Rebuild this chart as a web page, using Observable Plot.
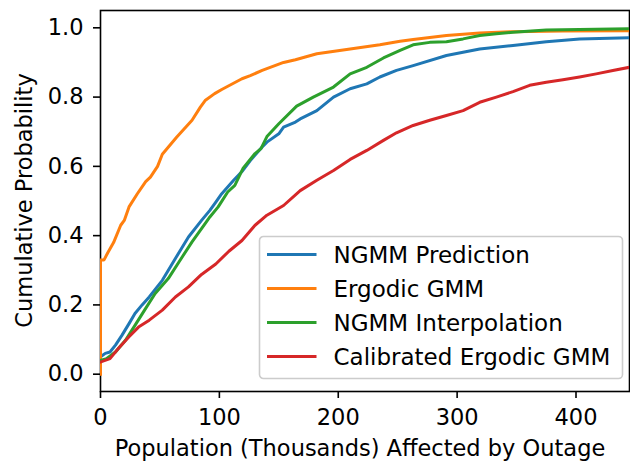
<!DOCTYPE html>
<html>
<head>
<meta charset="utf-8">
<script src="https://cdn.jsdelivr.net/npm/d3@7"></script>
<script src="https://cdn.jsdelivr.net/npm/@observablehq/plot@0.6"></script>
<style>
  html, body { margin: 0; padding: 0; background: white; }
  #chart { width: 630px; height: 462px; }
</style>
</head>
<body>
<div id="chart"></div>
<script>
// Series names and colours
const seriesNames = ["NGMM Prediction", "Ergodic GMM", "NGMM Interpolation", "Calibrated Ergodic GMM"];
const seriesColors = ["#1f77b4", "#ff7f0e", "#2ca02c", "#d62728"];

// NGMM Prediction (population in thousands, cumulative probability)
const ngmmPredX = [0,4,8,12.6,18,24,29,35,41,52,63,74,85,92,97,102,112,119,126,136,140,150,154,164,168,182,196,210,224,235,249,263,291,319,347,375,403,460];
const ngmmPredY = [0.05,0.06,0.064,0.084,0.112,0.146,0.175,0.2,0.223,0.271,0.334,0.396,0.444,0.473,0.497,0.521,0.56,0.585,0.617,0.656,0.67,0.694,0.713,0.728,0.737,0.761,0.80,0.824,0.838,0.858,0.877,0.891,0.92,0.939,0.949,0.96,0.968,0.973];

// Ergodic GMM
const ergodicX = [0,0,3,6,11,17,20,24,31,38,42,48,52,64,77,84,88,96,102,119,126,136,154,164,182,210,235,252,263,291,319,347,389,460];
const ergodicY = [0,0.33,0.33,0.35,0.38,0.43,0.444,0.483,0.521,0.556,0.569,0.6,0.635,0.684,0.733,0.771,0.79,0.81,0.822,0.853,0.862,0.877,0.90,0.908,0.925,0.939,0.951,0.961,0.966,0.978,0.985,0.989,0.991,0.992];

// NGMM Interpolation
const ngmmInterpX = [0,5,12.6,21,29,38,46,57,66,77,88,92,99,107,113,120,130,135,140,150,165,179,196,210,224,238,252,263,277,291,305,319,333,347,375,460];
const ngmmInterpY = [0.04,0.045,0.064,0.098,0.141,0.19,0.233,0.276,0.324,0.382,0.435,0.454,0.483,0.526,0.545,0.595,0.637,0.651,0.686,0.723,0.774,0.80,0.829,0.867,0.886,0.913,0.935,0.951,0.958,0.96,0.968,0.978,0.983,0.987,0.994,0.998];

// Calibrated Ergodic GMM
const calibX = [0,8,15,24,32,41,52,63,74,85,97,108,119,130,140,154,168,182,196,210,224,238,249,263,277,291,305,319,333,347,361,375,389,403,417,431,445,460];
const calibY = [0.035,0.045,0.074,0.108,0.136,0.156,0.185,0.223,0.252,0.288,0.318,0.355,0.386,0.43,0.459,0.487,0.53,0.56,0.588,0.62,0.646,0.675,0.697,0.718,0.733,0.747,0.761,0.785,0.80,0.816,0.834,0.843,0.85,0.858,0.867,0.877,0.886,0.89];

// Axis ticks
const xTicks = [0, 100, 200, 300, 400];
const yTicks = [0.0, 0.2, 0.4, 0.6, 0.8, 1.0];
const xLabel = "Population (Thousands) Affected by Outage";
const yLabel = "Cumulative Probability";

const seriesX = [ngmmPredX, ergodicX, ngmmInterpX, calibX];
const seriesY = [ngmmPredY, ergodicY, ngmmInterpY, calibY];
const data = seriesNames.flatMap((name, i) =>
  seriesX[i].map((x, j) => ({series: name, x, y: seriesY[i][j]})));

const W = 630, H = 462;
const mL = 100, mR = 1, mT = 10, mB = 71;
const font = "DejaVu Sans, sans-serif";
const fs = 22.5;
const lfs = 23;

const chart = Plot.plot({
  width: W,
  height: H,
  marginLeft: mL,
  marginRight: mR,
  marginTop: mT,
  marginBottom: mB,
  style: {fontFamily: font, fontSize: fs + "px", color: "black", background: "white", overflow: "visible"},
  x: {domain: [0, 445]},
  y: {domain: [-0.05, 1.05]},
  color: {domain: seriesNames, range: seriesColors},
  marks: [
    Plot.frame({stroke: "black", strokeWidth: 1.6}),
    Plot.line(data, {x: "x", y: "y", z: "series", stroke: "series", strokeWidth: 3, clip: true, strokeLinejoin: "round", strokeLinecap: "square"}),
    Plot.axisX({ticks: xTicks, tickSize: 7, tickPadding: 11, tickFormat: d3.format("d"), label: null, fontSize: fs, strokeWidth: 1.6}),
    Plot.axisY({ticks: yTicks, tickSize: 7, tickPadding: 10, tickFormat: d3.format(".1f"), label: null, fontSize: fs, strokeWidth: 1.6})
  ]
});

document.getElementById("chart").appendChild(chart);

// Axis titles and legend (layout only)
const svg = d3.select(chart);
svg.append("text")
  .attr("x", 360)
  .attr("y", 456)
  .attr("text-anchor", "middle")
  .attr("font-family", font)
  .attr("font-size", fs)
  .attr("fill", "black")
  .text(xLabel);
svg.append("text")
  .attr("transform", `translate(32, ${mT + (H - mT - mB) / 2}) rotate(-90)`)
  .attr("text-anchor", "middle")
  .attr("font-family", font)
  .attr("font-size", fs)
  .attr("fill", "black")
  .text(yLabel);

const lg = svg.append("g").attr("transform", "translate(259.5, 236.5)");
lg.append("rect")
  .attr("width", 363).attr("height", 142)
  .attr("rx", 4).attr("ry", 4)
  .attr("fill", "white").attr("fill-opacity", 0.8)
  .attr("stroke", "#cccccc").attr("stroke-width", 1.6);
seriesNames.forEach((name, i) => {
  const cy = 18 + i * 34;
  lg.append("line")
    .attr("x1", 7.5).attr("x2", 57).attr("y1", cy).attr("y2", cy)
    .attr("stroke", seriesColors[i]).attr("stroke-width", 3);
  lg.append("text")
    .attr("x", 74).attr("y", cy + 8.5)
    .attr("text-anchor", "start")
    .attr("font-family", font).attr("font-size", lfs).attr("fill", "black")
    .text(name);
});
</script>
</body>
</html>
